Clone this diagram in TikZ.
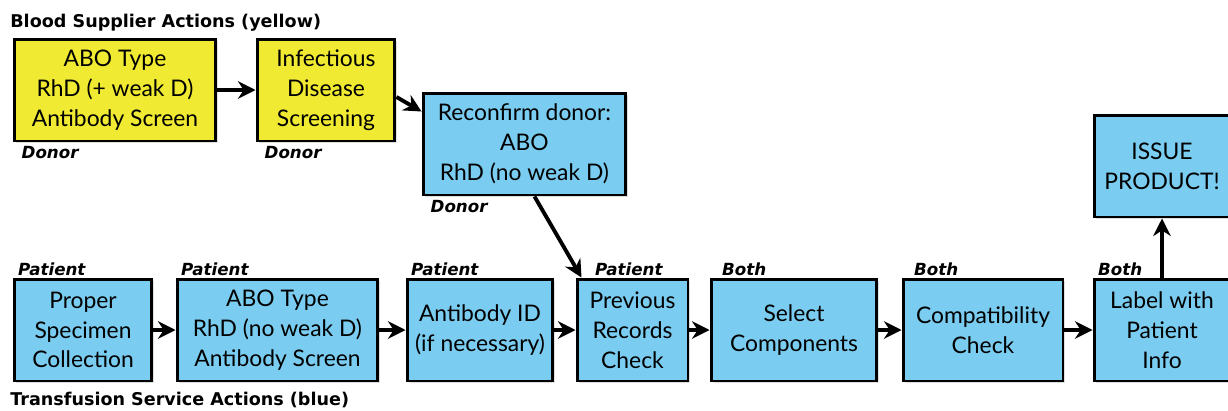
\documentclass[tikz,border=0pt]{standalone}
\usepackage{fontspec}
\setmainfont{Lato}
\newfontfamily\tagfont{DejaVu Sans}
\usetikzlibrary{arrows.meta,shadows}
\definecolor{donoryellow}{RGB}{240,234,50}
\definecolor{tsblue}{RGB}{122,204,240}
\begin{document}
\begin{tikzpicture}[x=0.02cm,y=-0.02cm,
  box/.style={draw=black, line width=1.7pt, align=center, inner sep=0pt,
    font=\fontsize{13}{17}\selectfont, minimum height=2.04cm,
    drop shadow={shadow xshift=1pt, shadow yshift=-1.2pt, opacity=.25}},
  ybox/.style={box, fill=donoryellow},
  bbox/.style={box, fill=tsblue},
  tag/.style={font=\tagfont\fontsize{9.5}{11}\selectfont\bfseries\itshape, inner sep=1pt},
  head/.style={font=\tagfont\fontsize{10}{12}\selectfont\bfseries, anchor=base west, inner sep=0pt},
  flow/.style={line width=2.2pt, -{Stealth[length=10pt,width=10pt]}}]
\useasboundingbox (0,0) rectangle (1228,410);
\clip (0,0) rectangle (1228,410);
% blood supplier row
\node[head] (supplier) at (10,27) {Blood Supplier Actions (yellow)};
\node[ybox, minimum width=4.04cm,
  label={[tag, anchor=north west, xshift=4pt, yshift=-1pt]south west:Donor}] (aboD) at (115,90)
  {ABO Type\\RhD (+ weak D)\\Antibody Screen};
\node[ybox, minimum width=2.76cm,
  label={[tag, anchor=north west, xshift=4pt, yshift=-1pt]south west:Donor}] (ids) at (326,90)
  {Infectious\\Disease\\Screening};
\node[bbox, minimum width=4.06cm,
  label={[tag, anchor=north west, xshift=4pt, yshift=-1pt]south west:Donor}] (recon) at (524.5,144)
  {Reconfirm donor:\\ABO\\RhD (no weak D)};
% transfusion service row
\node[bbox, minimum width=2.76cm,
  label={[tag, anchor=south west, xshift=2pt]north west:Patient}] (spec) at (83,330)
  {Proper\\Specimen\\Collection};
\node[bbox, minimum width=4.02cm,
  label={[tag, anchor=south west, xshift=2pt]north west:Patient}] (aboP) at (277.5,330)
  {ABO Type\\RhD (no weak D)\\Antibody Screen};
\node[bbox, minimum width=2.92cm,
  label={[tag, anchor=south west, xshift=2pt]north west:Patient}] (abid) at (480,330)
  {Antibody ID\\(if necessary)};
\node[bbox, minimum width=2.22cm,
  label={[tag, anchor=south west, xshift=10pt]north west:Patient}] (prev) at (632.5,330)
  {Previous\\Records\\Check};
\node[bbox, minimum width=3.32cm,
  label={[tag, anchor=south west, xshift=6pt]north west:Both}] (sel) at (794,330)
  {Select\\Components};
\node[bbox, minimum width=3.2cm,
  label={[tag, anchor=south west, xshift=6pt]north west:Both}] (comp) at (983,330)
  {Compatibility\\Check};
\node[bbox, minimum width=2.72cm,
  label={[tag, anchor=south west, xshift=2pt]north west:Both}] (lab) at (1162,330)
  {Label with\\Patient\\Info};
\node[bbox, minimum width=2.72cm] (issue) at (1162,166) {ISSUE\\PRODUCT!};
\node[head] (service) at (10,405) {Transfusion Service Actions (blue)};
% arrows
\draw[flow] (aboD) -- (ids);
\draw[flow] ([yshift=-0.14cm]ids.east) -- ([yshift=-0.4cm]recon.north west);
\draw[flow] ([xshift=0.2cm]recon.south) -- ([xshift=0.12cm]prev.north west);
\draw[flow] (spec) -- (aboP);
\draw[flow] (aboP) -- (abid);
\draw[flow] (abid) -- (prev);
\draw[flow] (prev) -- (sel);
\draw[flow] (sel) -- (comp);
\draw[flow] (comp) -- (lab);
\draw[flow] (lab) -- (issue);
\end{tikzpicture}
\end{document}
